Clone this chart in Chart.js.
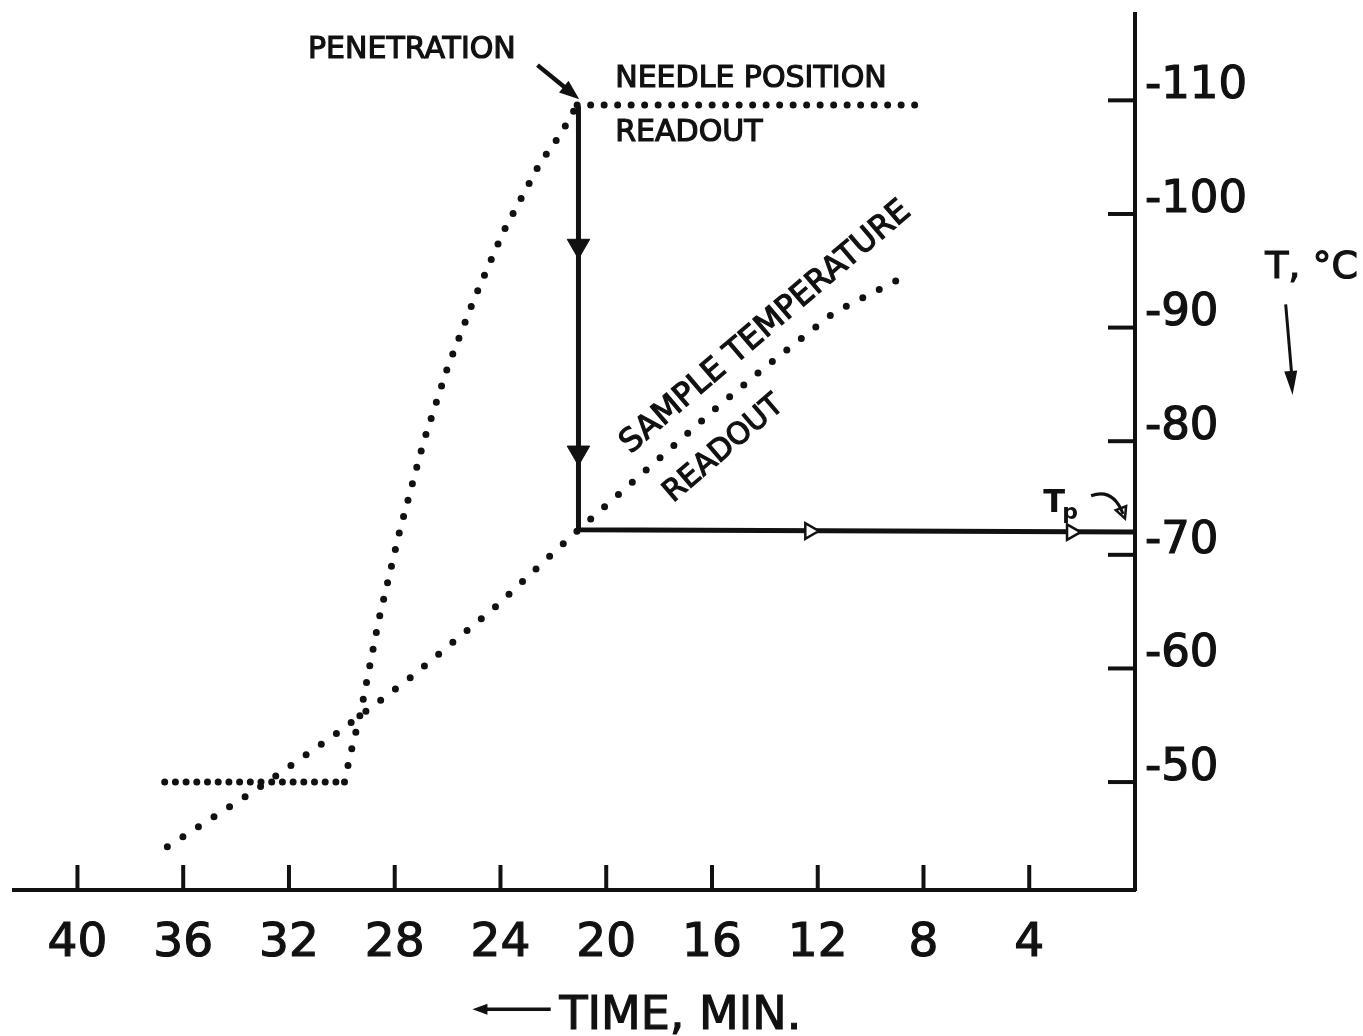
<!DOCTYPE html>
<html>
<head>
<meta charset="utf-8">
<script src="https://cdn.jsdelivr.net/npm/chart.js@4.4.0/dist/chart.umd.min.js"></script>
<style>
  html, body { margin: 0; padding: 0; background: #fff; }
  #grafico { display: block; }
</style>
</head>
<body>
<canvas id="grafico" width="1363" height="1036"></canvas>
<script>
// time axis runs right-to-left, temperature axis runs downward (more negative on top)
const xTicks = [40, 36, 32, 28, 24, 20, 16, 12, 8, 4];
const yTicks = [-110, -100, -90, -80, -70, -60, -50];

// needle position readout (dotted)
const needleTime = [36.7, 29.9, 29.7, 29.3, 28.6, 27.8, 26.9, 26.0, 25.0, 23.9, 22.5, 21.7, 21.1, 8.0];
const needleTemp = [-50.0, -50.0, -52.2, -56.0, -64.3, -72.2, -80.0, -86.5, -92.5, -98.4, -104.5, -107.1, -109.6, -109.6];

// sample temperature readout (dotted)
const sampleTime = [36.6, 33.2, 30.3, 27.4, 24.2, 22.5, 21.0, 17.4, 15.9, 14.0, 11.4, 8.8];
const sampleTemp = [-44.3, -49.4, -54.1, -59.2, -65.4, -69.1, -72.3, -79.7, -82.8, -86.5, -91.3, -94.4];

// solid path: penetration -> Tp
const pathTime = [21.05, 21.05, 0];
const pathTemp = [-109.4, -72.2, -72.0];

// arrow heads on the solid path
const downArrowTime = [21.05, 21.05];
const downArrowTemp = [-97.2, -79.0];
const rightArrowTime = [12.3, 2.4];
const rightArrowTemp = [-72.1, -72.0];

const INK = '#111';
const FONT = "'DejaVu Sans'";

const pts = (xs, ys) => xs.map((x, i) => ({ x: x, y: ys[i] }));

const canvas = document.getElementById('grafico');
const ctx = canvas.getContext('2d');

function line(c, x1, y1, x2, y2) {
  c.beginPath(); c.moveTo(x1, y1); c.lineTo(x2, y2); c.stroke();
}

function arrowHead(c, x1, y1, x2, y2, len, wid, filled) {
  const a = Math.atan2(y2 - y1, x2 - x1);
  c.beginPath();
  c.moveTo(x2, y2);
  c.lineTo(x2 - len * Math.cos(a) + wid / 2 * Math.sin(a), y2 - len * Math.sin(a) - wid / 2 * Math.cos(a));
  c.lineTo(x2 - len * Math.cos(a) - wid / 2 * Math.sin(a), y2 - len * Math.sin(a) + wid / 2 * Math.cos(a));
  c.closePath();
  if (filled) c.fill(); else c.stroke();
}

// inward tick marks + annotation lettering
const inkPlugin = {
  id: 'ink',
  beforeDraw(chart) {
    const c = chart.ctx;
    c.save();
    c.fillStyle = '#fff';
    c.fillRect(0, 0, chart.width, chart.height);
    c.restore();
  },
  afterDraw(chart) {
    const c = chart.ctx;
    const xs = chart.scales.x, ys = chart.scales.y;
    const px = t => xs.getPixelForValue(t);
    const py = T => ys.getPixelForValue(T);
    c.save();
    c.strokeStyle = INK;
    c.fillStyle = INK;

    // tick marks pointing into the plot
    c.lineWidth = 4;
    xTicks.forEach(v => line(c, px(v), xs.top, px(v), xs.top - 25));
    yTicks.forEach(v => line(c, ys.left, py(v), ys.left - 27, py(v)));

    const text = (s, t, T, size, align, base, rot) => {
      c.save();
      c.font = size + 'px ' + FONT;
      c.textAlign = align;
      c.textBaseline = base;
      c.lineWidth = 1.2;
      c.translate(px(t), py(T));
      if (rot) c.rotate(rot);
      c.fillText(s, 0, 0);
      c.strokeText(s, 0, 0);
      c.restore();
    };

    text('PENETRATION', 31.28, -113.7, 30, 'left', 'alphabetic');
    text('NEEDLE POSITION', 19.66, -111.2, 30, 'left', 'alphabetic');
    text('READOUT', 19.66, -106.4, 30, 'left', 'alphabetic');
    text('SAMPLE TEMPERATURE', 13.96, -90.0, 32, 'center', 'middle', -40.5 * Math.PI / 180);
    text('READOUT', 15.55, -79.3, 30, 'center', 'middle', -40.5 * Math.PI / 180);
    text('T, °C', -6.68, -95.2, 38, 'center', 'middle');
    text('TIME, MIN.', 21.77, -28.3, 46, 'left', 'alphabetic');

    // Tp label
    c.save();
    c.font = 'bold 32px ' + FONT;
    c.textAlign = 'left';
    c.textBaseline = 'alphabetic';
    c.fillText('T', px(3.47), py(-73.8));
    c.font = 'bold 22px ' + FONT;
    c.fillText('p', px(3.47) + 19, py(-73.8) + 7);
    c.restore();

    // penetration arrow
    c.lineWidth = 4.5;
    let x1 = px(22.6), y1 = py(-113.1), x2 = px(21.02), y2 = py(-110.1);
    line(c, x1, y1, x2 - 6, y2 - 5);
    arrowHead(c, x1, y1, x2, y2, 20, 15, true);

    // T, °C arrow
    c.lineWidth = 3;
    x1 = px(-5.70); y1 = py(-92.04); x2 = px(-5.96); y2 = py(-84.07);
    line(c, x1, y1, x2, y2 - 10);
    arrowHead(c, x1, y1, x2, y2, 24, 13, true);

    // time arrow
    c.lineWidth = 3.5;
    x1 = px(22.1); y1 = py(-30.0); x2 = px(25.06); y2 = py(-30.0);
    line(c, x1, y1, x2 + 8, y2);
    arrowHead(c, x1, y1, x2, y2, 15, 11, true);

    // Tp curved arrow
    c.lineWidth = 3;
    c.beginPath();
    c.moveTo(px(1.66), py(-75.2));
    c.quadraticCurveTo(px(0.83), py(-75.9), px(0.45), py(-73.6));
    c.stroke();
    c.lineWidth = 2.5;
    arrowHead(c, px(0.83), py(-75.9), px(0.38), py(-73.2), 11, 11, false);

    c.restore();
  }
};

const dotted = {
  showLine: true,
  fill: false,
  pointRadius: 0,
  borderColor: INK,
  borderWidth: 7,
  borderCapStyle: 'round',
  tension: 0
};

const chart = new Chart(ctx, {
  type: 'scatter',
  data: {
    datasets: [
      {
        label: 'down arrows',
        data: pts(downArrowTime, downArrowTemp),
        pointStyle: 'triangle',
        rotation: 180,
        pointRadius: 13,
        backgroundColor: INK,
        borderColor: INK,
        borderWidth: 1,
        order: 0
      },
      {
        label: 'right arrows',
        data: pts(rightArrowTime, rightArrowTemp),
        pointStyle: 'triangle',
        rotation: 90,
        pointRadius: 9,
        backgroundColor: '#fff',
        borderColor: INK,
        borderWidth: 2.5,
        order: 0
      },
      {
        label: 'path',
        data: pts(pathTime, pathTemp),
        showLine: true,
        pointRadius: 0,
        borderColor: INK,
        borderWidth: 5,
        borderJoinStyle: 'round',
        order: 1
      },
      Object.assign({
        label: 'needle position readout',
        data: pts(needleTime, needleTemp),
        segment: {
          borderDash: s => {
            if (s.p0.parsed.y !== s.p1.parsed.y) return [0, 17];
            return s.p0.parsed.y < -80 ? [0, 13.5] : [0, 10.7];
          }
        },
        borderDash: [0, 17],
        order: 2
      }, dotted),
      Object.assign({
        label: 'sample temperature readout',
        data: pts(sampleTime, sampleTemp),
        borderDash: [0, 18.5],
        order: 3
      }, dotted)
    ]
  },
  options: {
    responsive: false,
    animation: false,
    events: [],
    layout: { padding: { left: 10, top: 10, right: 0, bottom: 0 } },
    plugins: {
      legend: { display: false },
      tooltip: { enabled: false },
      title: { display: false }
    },
    scales: {
      x: {
        type: 'linear',
        position: 'bottom',
        reverse: true,
        min: 0,
        max: 42.4,
        afterBuildTicks: s => { s.ticks = xTicks.map(v => ({ value: v })); },
        afterFit: s => { s.height = 146; s.paddingLeft = 0; s.paddingRight = 0; },
        grid: { display: false, drawTicks: false },
        border: { display: true, color: INK, width: 4 },
        ticks: {
          autoSkip: false,
          maxRotation: 0,
          padding: 26,
          color: INK,
          textStrokeColor: INK,
          textStrokeWidth: 1.2,
          font: { family: FONT, size: 47 },
          callback: v => String(v)
        }
      },
      y: {
        type: 'linear',
        position: 'right',
        reverse: true,
        min: -117.6,
        max: -40.5,
        afterBuildTicks: s => { s.ticks = yTicks.map(v => ({ value: v })); },
        afterFit: s => { s.width = 228; s.paddingTop = 0; s.paddingBottom = 0; },
        grid: { display: false, drawTicks: false },
        border: { display: true, color: INK, width: 4 },
        ticks: {
          autoSkip: false,
          padding: 10,
          labelOffset: -14,
          color: INK,
          textStrokeColor: INK,
          textStrokeWidth: 1.2,
          font: { family: FONT, size: 45 },
          callback: v => String(v)
        }
      }
    }
  },
  plugins: [inkPlugin]
});
</script>
</body>
</html>
